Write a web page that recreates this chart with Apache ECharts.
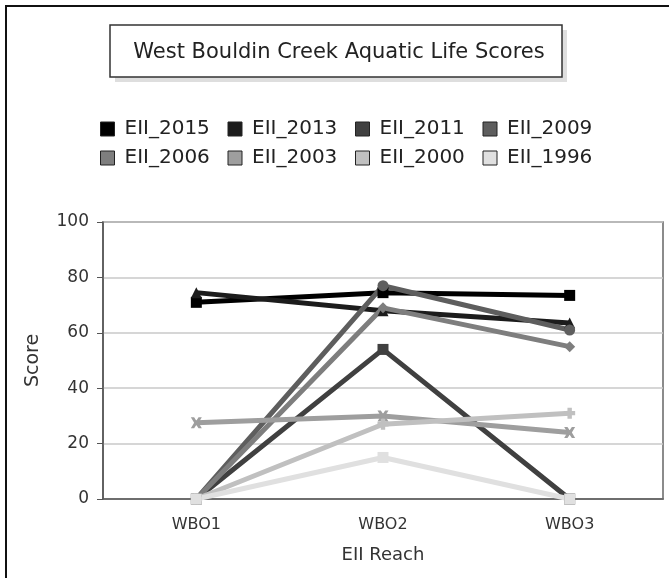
<!DOCTYPE html>
<html>
<head>
<meta charset="utf-8">
<script src="https://cdn.jsdelivr.net/npm/echarts@6/dist/echarts.min.js"></script>
<style>
  html, body { margin: 0; padding: 0; background: #fff; }
  #main { width: 669px; height: 578px; }
</style>
</head>
<body>
<div id="main"></div>
<script>
// reaches on the x axis
var reaches = ['WBO1', 'WBO2', 'WBO3'];
var yTicks = [0, 20, 40, 60, 80, 100];

// scores per survey year
var eii2015 = [71, 74.5, 73.5];
var eii2013 = [74.5, 68, 63.5];
var eii2011 = [0, 54, 0];
var eii2009 = [0, 77, 61];
var eii2006 = [0, 69, 55];
var eii2003 = [27.5, 30, 24];
var eii2000 = [0, 27, 31];
var eii1996 = [0, 15, 0];

var seriesNames = ['EII_2015', 'EII_2013', 'EII_2011', 'EII_2009', 'EII_2006', 'EII_2003', 'EII_2000', 'EII_1996'];
var seriesData = [eii2015, eii2013, eii2011, eii2009, eii2006, eii2003, eii2000, eii1996];
var seriesColors = ['#000000', '#1c1c1c', '#404040', '#5e5e5e', '#7e7e7e', '#9e9e9e', '#c0c0c0', '#e0e0e0'];
var seriesSymbols = ['rect', 'triangle', 'rect', 'circle', 'diamond', 'path://M0,0L3,0L5,3L7,0L10,0L7,5L10,10L7,10L5,7L3,10L0,10L3,5Z', 'path://M3,0L7,0L7,3L10,3L10,7L7,7L7,10L3,10L3,7L0,7L0,3L3,3Z', 'rect'];

var font = 'DejaVu Sans';

document.addEventListener('DOMContentLoaded', function() {
    var myChart = echarts.init(document.getElementById('main'));

    var series = seriesNames.map(function(name, i) {
        return {
            name: name,
            type: 'line',
            data: seriesData[i],
            color: seriesColors[i],
            symbol: seriesSymbols[i],
            symbolSize: 11,
            showAllSymbol: true,
            lineStyle: { width: 5 },
            itemStyle: { color: seriesColors[i] },
            emphasis: { disabled: true },
            animation: false
        };
    });

    var option = {
        animation: false,
        backgroundColor: '#ffffff',
        title: {
            text: 'West Bouldin Creek Aquatic Life Scores',
            left: 334,
            top: 37,
            textAlign: 'center',
            textStyle: { fontFamily: font, fontSize: 21, fontWeight: 'normal', color: '#222' }
        },
        graphic: [
            // outer frame
            { type: 'rect', shape: { x: 6, y: 6, width: 700, height: 600 }, style: { fill: null, stroke: '#111', lineWidth: 2 }, z: -10 },
            // title box shadow and box
            { type: 'rect', shape: { x: 115, y: 30, width: 452, height: 52 }, style: { fill: '#dedede' }, z: -5 },
            { type: 'rect', shape: { x: 110, y: 25, width: 452, height: 52 }, style: { fill: '#fff', stroke: '#333', lineWidth: 1.5 }, z: -4 }
        ],
        legend: {
            data: seriesNames,
            left: 95,
            top: 113,
            width: 520,
            icon: 'rect',
            itemWidth: 14,
            itemHeight: 14,
            itemGap: 7,
            itemStyle: { borderColor: '#222', borderWidth: 1 },
            textStyle: { fontFamily: font, fontSize: 20, color: '#222', width: 96, lineHeight: 22, padding: [0, 0, 0, 5] },
            selectedMode: false
        },
        grid: {
            left: 103,
            right: 6,
            top: 222,
            bottom: 79,
            show: true,
            borderColor: '#666',
            borderWidth: 1.5
        },
        xAxis: {
            type: 'category',
            data: reaches,
            boundaryGap: true,
            name: 'EII Reach',
            nameLocation: 'middle',
            nameGap: 47,
            nameTextStyle: { fontFamily: font, fontSize: 18, color: '#333' },
            axisLine: { lineStyle: { color: '#555', width: 1.5 } },
            axisTick: { alignWithLabel: true, length: 6, lineStyle: { color: '#555' } },
            axisLabel: { fontFamily: font, fontSize: 16, color: '#333', margin: 18 },
            splitLine: { show: false }
        },
        yAxis: {
            type: 'value',
            min: yTicks[0],
            max: yTicks[yTicks.length - 1],
            interval: yTicks[1] - yTicks[0],
            name: 'Score',
            nameLocation: 'middle',
            nameGap: 60,
            nameTextStyle: { fontFamily: font, fontSize: 19, color: '#333' },
            axisLine: { show: true, lineStyle: { color: '#555', width: 1.5 } },
            axisTick: { show: true, length: 6, lineStyle: { color: '#555' } },
            axisLabel: { fontFamily: font, fontSize: 17, color: '#333', margin: 14 },
            splitLine: { lineStyle: { color: '#c8c8c8', width: 1.5 } }
        },
        series: series
    };

    option && myChart.setOption(option);
});
</script>
</body>
</html>
